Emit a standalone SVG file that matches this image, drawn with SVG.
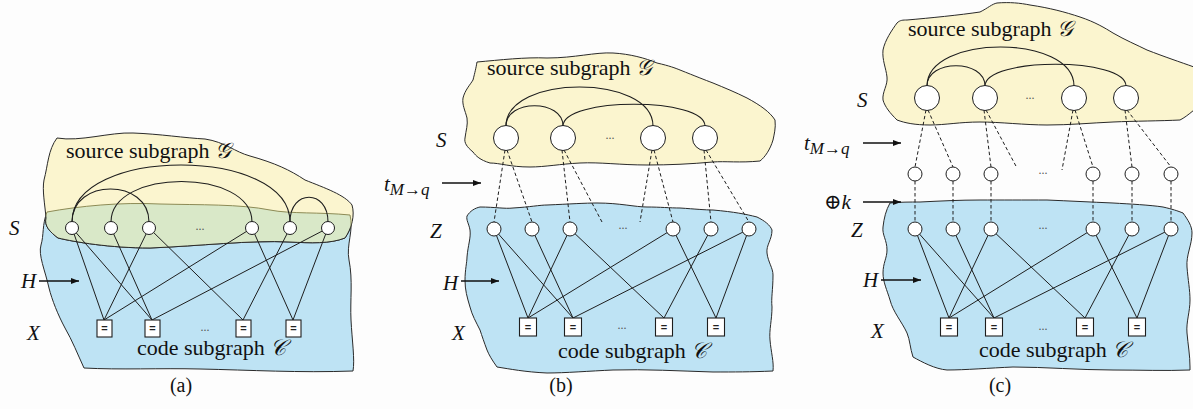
<svg xmlns="http://www.w3.org/2000/svg" width="1193" height="409" viewBox="0 0 1193 409">
<style>
.bg{fill:#fdfdfd}
.yel{fill:#fbf5cf;stroke:#2a2a2a;stroke-width:1}
.blu{fill:#bee3f4;stroke:#2a2a2a;stroke-width:1}
.grn{fill:#d9e8c8;stroke:none}
.edge{stroke:#1e1e1e;stroke-width:1;fill:none}
.arc{stroke:#1e1e1e;stroke-width:1.1;fill:none}
.dash{stroke:#1e1e1e;stroke-width:1;fill:none;stroke-dasharray:3.5,2.5}
.arr{stroke:#111;stroke-width:1.3;fill:none;marker-end:url(#ah)}
.node{fill:#fff;stroke:#1e1e1e;stroke-width:1}
.sq{fill:#fff;stroke:#1e1e1e;stroke-width:1.1}
.eq{font-family:"Liberation Sans",sans-serif;font-size:11px;font-weight:bold;fill:#222;text-anchor:middle}
.lab{font-family:"Liberation Serif","DejaVu Serif",serif;font-style:italic;font-size:21px;fill:#111}
.sub{font-size:17px}
.txt{font-family:"Liberation Serif","DejaVu Serif",serif;font-size:22px;fill:#111}
.cap{font-family:"Liberation Serif","DejaVu Serif",serif;font-size:20px;fill:#111;text-anchor:middle}
.dots{font-family:"Liberation Serif",serif;font-size:12px;fill:#555;text-anchor:middle}
</style>
<defs>
<marker id="ah" markerWidth="9" markerHeight="7" refX="8" refY="3" orient="auto" markerUnits="userSpaceOnUse">
<path d="M0,0 L8,3 L0,6 z" fill="#111"/>
</marker>
<path id="yA" d="M57,138 C80,142 110,132 133,133 C160,134 185,138 205,139 C225,142 235,152 250,156 C275,163 290,170 305,180 C325,188 345,195 352,205 C355,215 352,228 345,238 C330,244 310,243 290,242 C250,240 200,246 150,248 C110,248 75,242 58,238 C50,232 44,226 46,218 C45,205 42,190 44,180 C48,165 48,150 57,138 Z"/>
<path id="bA" d="M47,212 C80,206 120,202 160,204 C200,205 240,204 270,210 C290,214 320,212 350,215 C354,230 346,245 349,260 C353,280 350,300 351,320 C352,340 355,360 353,371 C300,373 250,370 200,369 C160,368 120,370 84,368 C78,355 72,340 65,328 C58,315 52,300 49,288 C45,270 38,255 41,245 C44,235 42,225 47,212 Z"/>
<clipPath id="clipB"><use href="#bA"/></clipPath>
<clipPath id="clipY"><use href="#yA"/></clipPath>
</defs>
<rect class="bg" x="0" y="0" width="1193" height="409"/>

<!-- Panel (a) regions -->
<g id="region-a">
<use href="#bA" class="blu"/>
<use href="#yA" class="yel"/>
<use href="#yA" class="grn" clip-path="url(#clipB)"/>
<use href="#yA" fill="none" stroke="#2a2a2a" stroke-width="1" clip-path="url(#clipB)"/>
<use href="#bA" fill="none" stroke="#8c8a55" stroke-width="1" clip-path="url(#clipY)"/>
</g>
<!-- Panel (b) regions -->
<g id="region-b">
<path class="yel" d="M477,62 C500,60 525,57 547,58 C575,58 595,52 613,53 C630,54 645,58 657,63 C670,66 675,68 680,70 C695,76 705,80 713,83 C725,88 735,92 747,98 C760,105 770,112 775,120 C776,128 774,135 773,140 C770,150 765,157 760,161 C740,163 725,161 713,162 C690,164 670,165 647,165 C620,165 600,162 580,163 C560,164 545,167 530,167 C510,167 500,163 490,163 C480,160 476,156 473,152 C467,147 464,143 465,138 C466,130 468,125 467,118 C465,110 462,105 463,98 C465,90 470,85 473,80 C475,72 476,68 477,62 Z"/>
<path class="blu" d="M480,207 C495,207 505,209 513,208 C530,207 540,205 547,205 C570,204 585,203 597,203 C620,203 635,207 647,207 C660,207 670,208 680,208 C695,209 705,210 713,210 C735,212 745,214 757,217 C765,221 770,225 772,230 C772,240 766,245 767,253 C768,262 773,268 773,275 C773,290 771,298 772,307 C772,320 769,330 770,340 C771,352 774,362 773,371 C750,372 735,372 713,372 C680,371 645,369 613,370 C590,371 565,373 547,373 C525,372 510,369 497,367 C492,360 489,355 487,350 C484,342 482,336 480,330 C476,322 472,315 470,307 C467,297 465,290 465,280 C465,270 467,262 467,257 C468,245 471,238 470,230 C469,224 466,220 467,216 C470,211 475,208 480,207 Z"/>
</g>
<!-- Panel (c) regions -->
<g id="region-c">
<path class="yel" d="M897,23 C900,20 903,20 907,20 C930,18 960,15 980,12 C988,8 992,4 997,3 C1010,2 1020,3 1030,5 C1050,8 1065,12 1080,17 C1095,22 1105,28 1113,33 C1125,40 1137,45 1147,50 C1165,57 1180,62 1194,67 L1194,110 C1188,115 1184,118 1180,120 C1160,121 1135,121 1113,122 C1090,123 1070,125 1047,125 C1025,125 1000,122 980,122 C960,122 945,125 930,125 C915,125 905,123 897,120 C890,113 885,107 883,100 C882,92 888,85 887,77 C886,68 882,60 883,50 C885,40 892,30 897,23 Z"/>
<path class="blu" d="M890,203 C900,202 910,202 920,202 C940,201 960,200 980,200 C1000,200 1025,200 1047,200 C1070,201 1090,202 1113,203 C1130,204 1150,205 1163,207 C1172,209 1178,211 1183,213 C1188,220 1192,226 1192,233 C1192,245 1186,255 1187,267 C1188,280 1190,290 1190,300 C1190,312 1186,322 1187,333 C1188,345 1190,355 1190,367 L1190,370 C1165,371 1140,370 1113,370 C1080,370 1045,367 1013,367 C990,368 965,370 947,370 C935,369 922,362 913,357 C910,348 910,340 907,333 C902,322 893,312 890,300 C887,290 883,282 883,273 C883,263 887,258 887,250 C887,240 882,235 883,227 C884,218 886,210 890,203 Z"/>
</g>

<!-- Connectors -->
<g id="connectors">
<!-- (a) arcs -->
<path class="arc" d="M72,222 C72,146 290,146 290,222"/>
<path class="arc" d="M72,222 C72,178 149,178 149,222"/>
<path class="arc" d="M111,222 C111,168 252,168 252,222"/>
<path class="arc" d="M290,222 C290,189 328,189 328,222"/>
<!-- (a) edges -->
<path class="edge" d="M72,228 L104,320 M72,228 L152,320 M111,228 L152,320 M149,228 L104,320 M149,228 L243,320 M252,228 L104,320 M252,228 L293,320 M290,228 L243,320 M328,228 L152,320 M328,228 L293,320"/>
<!-- (b) arcs -->
<path class="arc" d="M506,126 C506,74 653,74 653,126"/>
<path class="arc" d="M506,126 C506,99 563,99 563,126"/>
<path class="arc" d="M563,126 C563,97 705,97 705,126"/>
<!-- (b) dashed -->
<path class="dash" d="M505,150 L494,222 M507,150 L532,222 M562,150 L570,222 M564,150 L602,222 M652,150 L640,222 M654,150 L673,222 M704,150 L711,222 M706,150 L749,222"/>
<!-- (b) edges -->
<path class="edge" d="M494,229 L528,318 M494,229 L573,318 M532,229 L573,318 M570,229 L528,318 M570,229 L664,318 M673,229 L528,318 M673,229 L716,318 M711,229 L664,318 M749,229 L573,318 M749,229 L716,318"/>
<!-- (c) arcs -->
<path class="arc" d="M927,86 C927,34 1074,34 1074,86"/>
<path class="arc" d="M927,86 C927,59 985,59 985,86"/>
<path class="arc" d="M985,86 C985,57 1126,57 1126,86"/>
<!-- (c) dashed -->
<path class="dash" d="M926,110 L915,167 M928,110 L953,167 M984,110 L991,167 M986,110 L1017,168 M1073,110 L1062,170 M1075,110 L1093,167 M1125,110 L1132,167 M1127,110 L1171,167"/>
<path class="dash" d="M915,181 L915,222 M953,181 L953,222 M991,181 L991,222 M1093,181 L1093,222 M1132,181 L1132,222 M1171,181 L1171,222"/>
<!-- (c) edges -->
<path class="edge" d="M915,229 L949,318 M915,229 L994,318 M953,229 L994,318 M991,229 L949,318 M991,229 L1085,318 M1093,229 L949,318 M1093,229 L1137,318 M1132,229 L1085,318 M1171,229 L994,318 M1171,229 L1137,318"/>
<!-- label arrows -->
<line class="arr" x1="39" y1="281" x2="79" y2="281"/>
<line class="arr" x1="442" y1="183" x2="481" y2="183"/>
<line class="arr" x1="461" y1="281" x2="499" y2="281"/>
<line class="arr" x1="863" y1="143" x2="901" y2="143"/>
<line class="arr" x1="863" y1="202" x2="901" y2="202"/>
<line class="arr" x1="881" y1="280" x2="921" y2="280"/>
</g>

<!-- Panel (a) nodes -->
<g id="a-s1"><circle class="node" cx="72" cy="228" r="6.5"/></g>
<g id="a-s2"><circle class="node" cx="111" cy="228" r="6.5"/></g>
<g id="a-s3"><circle class="node" cx="149" cy="228" r="6.5"/></g>
<g id="a-s4"><circle class="node" cx="252" cy="228" r="6.5"/></g>
<g id="a-s5"><circle class="node" cx="290" cy="228" r="6.5"/></g>
<g id="a-s6"><circle class="node" cx="328" cy="228" r="6.5"/></g>
<g id="a-x1"><rect class="sq" x="97" y="320" width="15" height="17"/><text class="eq" x="104.5" y="332">=</text></g>
<g id="a-x2"><rect class="sq" x="145" y="320" width="15" height="17"/><text class="eq" x="152.5" y="332">=</text></g>
<g id="a-x3"><rect class="sq" x="236" y="320" width="15" height="17"/><text class="eq" x="243.5" y="332">=</text></g>
<g id="a-x4"><rect class="sq" x="286" y="320" width="15" height="17"/><text class="eq" x="293.5" y="332">=</text></g>

<!-- Panel (b) nodes -->
<g id="b-s1"><circle class="node" cx="506" cy="138" r="12.5"/></g>
<g id="b-s2"><circle class="node" cx="563" cy="138" r="12.5"/></g>
<g id="b-s3"><circle class="node" cx="653" cy="138" r="12.5"/></g>
<g id="b-s4"><circle class="node" cx="705" cy="138" r="12.5"/></g>
<g id="b-z1"><circle class="node" cx="494" cy="229" r="7"/></g>
<g id="b-z2"><circle class="node" cx="532" cy="229" r="7"/></g>
<g id="b-z3"><circle class="node" cx="570" cy="229" r="7"/></g>
<g id="b-z4"><circle class="node" cx="673" cy="229" r="7"/></g>
<g id="b-z5"><circle class="node" cx="711" cy="229" r="7"/></g>
<g id="b-z6"><circle class="node" cx="749" cy="229" r="7"/></g>
<g id="b-x1"><rect class="sq" x="519.5" y="318" width="17" height="18"/><text class="eq" x="528" y="331">=</text></g>
<g id="b-x2"><rect class="sq" x="564.5" y="318" width="17" height="18"/><text class="eq" x="573" y="331">=</text></g>
<g id="b-x3"><rect class="sq" x="655.5" y="318" width="17" height="18"/><text class="eq" x="664" y="331">=</text></g>
<g id="b-x4"><rect class="sq" x="707.5" y="318" width="17" height="18"/><text class="eq" x="716" y="331">=</text></g>

<!-- Panel (c) nodes -->
<g id="c-s1"><circle class="node" cx="927" cy="98" r="12.5"/></g>
<g id="c-s2"><circle class="node" cx="985" cy="98" r="12.5"/></g>
<g id="c-s3"><circle class="node" cx="1074" cy="98" r="12.5"/></g>
<g id="c-s4"><circle class="node" cx="1126" cy="98" r="12.5"/></g>
<g id="c-m1"><circle class="node" cx="915" cy="174" r="7"/></g>
<g id="c-m2"><circle class="node" cx="953" cy="174" r="7"/></g>
<g id="c-m3"><circle class="node" cx="991" cy="174" r="7"/></g>
<g id="c-m4"><circle class="node" cx="1093" cy="174" r="7"/></g>
<g id="c-m5"><circle class="node" cx="1132" cy="174" r="7"/></g>
<g id="c-m6"><circle class="node" cx="1171" cy="174" r="7"/></g>
<g id="c-z1"><circle class="node" cx="915" cy="229" r="7"/></g>
<g id="c-z2"><circle class="node" cx="953" cy="229" r="7"/></g>
<g id="c-z3"><circle class="node" cx="991" cy="229" r="7"/></g>
<g id="c-z4"><circle class="node" cx="1093" cy="229" r="7"/></g>
<g id="c-z5"><circle class="node" cx="1132" cy="229" r="7"/></g>
<g id="c-z6"><circle class="node" cx="1171" cy="229" r="7"/></g>
<g id="c-x1"><rect class="sq" x="940.5" y="318" width="17" height="18"/><text class="eq" x="949" y="331">=</text></g>
<g id="c-x2"><rect class="sq" x="985.5" y="318" width="17" height="18"/><text class="eq" x="994" y="331">=</text></g>
<g id="c-x3"><rect class="sq" x="1076.5" y="318" width="17" height="18"/><text class="eq" x="1085" y="331">=</text></g>
<g id="c-x4"><rect class="sq" x="1128.5" y="318" width="17" height="18"/><text class="eq" x="1137" y="331">=</text></g>

<!-- dots -->
<g id="dots">
<text class="dots" x="200" y="230">...</text>
<text class="dots" x="205" y="331">...</text>
<text class="dots" x="610" y="139">...</text>
<text class="dots" x="623" y="229">...</text>
<text class="dots" x="622" y="329">...</text>
<text class="dots" x="1030" y="99">...</text>
<text class="dots" x="1043" y="174">...</text>
<text class="dots" x="1043" y="229">...</text>
<text class="dots" x="1043" y="330">...</text>
</g>

<!-- labels -->
<g id="labels">
<text class="txt" x="66" y="158">source subgraph <tspan font-style="italic">𝒢</tspan></text>
<text class="txt" x="137" y="355">code subgraph <tspan font-style="italic">𝒞</tspan></text>
<text class="txt" x="487" y="75" font-size="23">source subgraph <tspan font-style="italic">𝒢</tspan></text>
<text class="txt" x="558" y="358" font-size="23">code subgraph <tspan font-style="italic">𝒞</tspan></text>
<text class="txt" x="908" y="36" font-size="23">source subgraph <tspan font-style="italic">𝒢</tspan></text>
<text class="txt" x="979" y="357" font-size="23">code subgraph <tspan font-style="italic">𝒞</tspan></text>

<text class="lab" x="9" y="235">S</text>
<text class="lab" x="21" y="288">H</text>
<text class="lab" x="27" y="340">X</text>

<text class="lab" x="436" y="147">S</text>
<text class="lab" x="384" y="191" font-size="22">t<tspan class="sub" dy="4">M</tspan><tspan class="sub" font-style="normal">→</tspan><tspan class="sub">q</tspan></text>
<text class="lab" x="430" y="238">Z</text>
<text class="lab" x="443" y="290">H</text>
<text class="lab" x="452" y="340">X</text>

<text class="lab" x="857" y="107">S</text>
<text class="lab" x="804" y="150" font-size="22">t<tspan class="sub" dy="4">M</tspan><tspan class="sub" font-style="normal">→</tspan><tspan class="sub">q</tspan></text>
<text class="lab" x="824" y="209"><tspan font-style="normal">⊕</tspan>k</text>
<text class="lab" x="851" y="237">Z</text>
<text class="lab" x="863" y="287">H</text>
<text class="lab" x="871" y="338">X</text>

<text class="cap" x="181" y="392">(a)</text>
<text class="cap" x="561" y="392">(b)</text>
<text class="cap" x="1000" y="392">(c)</text>
</g>
</svg>
